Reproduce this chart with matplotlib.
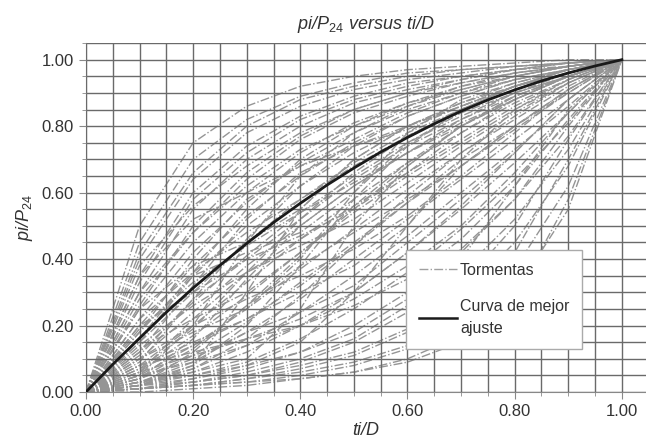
import matplotlib
matplotlib.use("Agg")
import matplotlib.pyplot as plt
from matplotlib.ticker import MultipleLocator, FormatStrFormatter
from matplotlib.lines import Line2D

plt.rcParams['font.family'] = ['Liberation Sans', 'DejaVu Sans']
plt.rcParams['mathtext.fontset'] = 'custom'
plt.rcParams['mathtext.rm'] = 'Liberation Sans'
plt.rcParams['mathtext.it'] = 'Liberation Sans:italic'

# --- Data ---
t_frac = [0.0, 0.1, 0.2, 0.3, 0.4, 0.5, 0.6, 0.7, 0.8, 0.9, 1.0]

# cumulative storm curves, pi/P24 at each t_frac
storms = [
    [0, .50, .75, .86, .92, .95, .97, .98, .99, 1.0, 1.0],
    [0, .45, .70, .82, .89, .93, .96, .97, .98, .99, 1.0],
    [0, .40, .64, .78, .86, .91, .94, .96, .98, .99, 1.0],
    [0, .35, .60, .74, .83, .89, .93, .95, .97, .99, 1.0],
    [0, .30, .55, .70, .80, .87, .91, .94, .97, .98, 1.0],
    [0, .28, .48, .64, .76, .84, .89, .93, .96, .98, 1.0],
    [0, .25, .45, .60, .72, .81, .87, .92, .95, .98, 1.0],
    [0, .22, .42, .57, .69, .78, .85, .90, .94, .97, 1.0],
    [0, .20, .38, .53, .65, .75, .83, .89, .94, .97, 1.0],
    [0, .18, .35, .50, .62, .72, .80, .87, .92, .96, 1.0],
    [0, .15, .30, .45, .58, .69, .78, .85, .91, .96, 1.0],
    [0, .12, .27, .41, .54, .65, .75, .83, .90, .95, 1.0],
    [0, .10, .24, .38, .50, .62, .72, .81, .88, .95, 1.0],
    [0, .08, .20, .33, .46, .58, .69, .78, .87, .94, 1.0],
    [0, .06, .17, .29, .42, .54, .65, .75, .85, .93, 1.0],
    [0, .05, .14, .25, .37, .49, .61, .72, .82, .92, 1.0],
    [0, .04, .11, .21, .33, .45, .57, .68, .79, .90, 1.0],
    [0, .03, .09, .18, .28, .40, .52, .64, .76, .88, 1.0],
    [0, .03, .07, .14, .24, .35, .47, .60, .73, .86, 1.0],
    [0, .02, .06, .12, .20, .30, .42, .55, .69, .84, 1.0],
    [0, .02, .05, .09, .16, .25, .36, .49, .64, .81, 1.0],
    [0, .01, .04, .07, .12, .20, .30, .43, .58, .77, 1.0],
    [0, .01, .03, .05, .09, .15, .24, .36, .52, .73, 1.0],
    [0, .01, .02, .04, .07, .11, .18, .29, .45, .68, 1.0],
    [0, .01, .02, .03, .05, .08, .13, .22, .37, .62, 1.0],
    [0, .00, .01, .02, .04, .06, .10, .17, .30, .55, 1.0],
    [0, .05, .20, .45, .65, .78, .86, .92, .96, .98, 1.0],
    [0, .10, .18, .25, .40, .60, .75, .84, .90, .95, 1.0],
    [0, .02, .08, .30, .55, .70, .80, .87, .93, .97, 1.0],
    [0, .15, .35, .42, .48, .60, .78, .88, .93, .97, 1.0],
    [0, .03, .06, .10, .25, .50, .68, .80, .88, .95, 1.0],
    [0, .25, .38, .45, .55, .70, .80, .86, .92, .97, 1.0],
    [0, .08, .15, .22, .30, .38, .50, .70, .85, .94, 1.0],
    [0, .02, .04, .08, .15, .30, .50, .68, .80, .91, 1.0],
    [0, .35, .52, .60, .68, .76, .84, .90, .95, .98, 1.0],
    [0, .12, .32, .52, .66, .74, .80, .86, .92, .97, 1.0],
    [0, .04, .10, .18, .24, .32, .45, .58, .72, .88, 1.0],
    [0, .06, .22, .36, .44, .52, .63, .74, .84, .93, 1.0],
    [0, .18, .40, .58, .68, .74, .79, .86, .92, .96, 1.0],
    [0, .01, .03, .06, .10, .16, .26, .40, .62, .85, 1.0],
    [0, .20, .30, .40, .52, .64, .74, .82, .89, .95, 1.0],
    [0, .09, .28, .40, .47, .55, .66, .78, .88, .95, 1.0],
    [0, .02, .12, .26, .38, .48, .58, .68, .80, .91, 1.0],
    [0, .05, .09, .14, .20, .28, .38, .50, .66, .84, 1.0],
    [0, .30, .48, .62, .73, .80, .86, .91, .95, .98, 1.0],
    [0, .14, .26, .36, .46, .56, .66, .76, .86, .94, 1.0],
    [0, .01, .02, .04, .06, .09, .14, .24, .42, .70, 1.0],
    [0, .07, .14, .22, .32, .44, .57, .70, .80, .90, 1.0],
    [0, .42, .66, .80, .88, .92, .95, .97, .98, .99, 1.0],
    [0, .33, .58, .72, .82, .88, .92, .95, .97, .99, 1.0],
    [0, .26, .50, .66, .77, .85, .90, .93, .96, .98, 1.0],
    [0, .16, .36, .55, .70, .80, .87, .91, .95, .98, 1.0],
    [0, .11, .28, .46, .62, .74, .83, .89, .94, .97, 1.0],
    [0, .07, .19, .36, .52, .66, .77, .85, .91, .96, 1.0],
    [0, .04, .13, .26, .41, .56, .69, .80, .89, .95, 1.0],
    [0, .02, .07, .16, .29, .44, .59, .72, .83, .93, 1.0],
    [0, .03, .05, .08, .12, .18, .28, .42, .58, .80, 1.0],
    [0, .06, .11, .16, .22, .30, .42, .56, .72, .88, 1.0],
    [0, .10, .20, .28, .35, .43, .53, .65, .78, .91, 1.0],
    [0, .22, .36, .48, .58, .68, .77, .85, .92, .97, 1.0],
    [0, .13, .22, .30, .42, .55, .68, .80, .89, .95, 1.0],
    [0, .04, .16, .34, .50, .62, .72, .82, .90, .96, 1.0],
    [0, .01, .02, .03, .04, .06, .09, .15, .28, .58, 1.0],
    [0, .02, .03, .05, .08, .12, .19, .32, .50, .76, 1.0],
    [0, .08, .12, .16, .20, .26, .34, .46, .62, .82, 1.0],
    [0, .38, .56, .68, .78, .85, .90, .94, .97, .99, 1.0],
    [0, .19, .33, .44, .54, .63, .72, .80, .88, .95, 1.0],
    [0, .03, .08, .20, .38, .58, .74, .85, .92, .97, 1.0],
]

# best fit curve
fit_x = [0.0, 0.05, 0.1, 0.15, 0.2, 0.25, 0.3, 0.35, 0.4, 0.45, 0.5,
         0.55, 0.6, 0.65, 0.7, 0.75, 0.8, 0.85, 0.9, 0.95, 1.0]
fit_y = [0.0, 0.083, 0.162, 0.24, 0.313, 0.381, 0.447, 0.51, 0.568, 0.623, 0.674,
         0.722, 0.766, 0.807, 0.845, 0.879, 0.909, 0.936, 0.96, 0.981, 1.0]

# --- Plot ---
fig = plt.figure(figsize=(6.46, 4.44), dpi=100)
ax = fig.add_axes([0.133, 0.117, 0.867, 0.786])

storm_gray = '#959595'
for s in storms:
    ax.plot(t_frac, s, color=storm_gray, lw=1.0, ls='-.', zorder=2)
ax.plot(fit_x, fit_y, color='#1a1a1a', lw=2.0, zorder=4)

ax.set_xlim(0, 1.045)
ax.set_ylim(0, 1.05)
ax.xaxis.set_major_locator(MultipleLocator(0.2))
ax.yaxis.set_major_locator(MultipleLocator(0.2))
ax.xaxis.set_minor_locator(MultipleLocator(0.05))
ax.yaxis.set_minor_locator(MultipleLocator(0.05))
ax.xaxis.set_major_formatter(FormatStrFormatter('%.2f'))
ax.yaxis.set_major_formatter(FormatStrFormatter('%.2f'))
ax.grid(True, which='both', color='#6a6a6a', lw=1.0, zorder=3)
ax.set_axisbelow(False)

ax.tick_params(which='major', length=5, color='#888888', labelsize=12, labelcolor='#333333')
ax.tick_params(which='minor', length=3, color='#888888')
for side in ['top', 'right']:
    ax.spines[side].set_visible(False)
for side in ['left', 'bottom']:
    ax.spines[side].set_color('#888888')

ax.set_title(r'pi/P$_{24}$ versus ti/D', fontstyle='italic', fontsize=13,
             color='#333333', pad=10)
ax.set_xlabel('ti/D', fontstyle='italic', fontsize=13, color='#333333', labelpad=2)
ax.set_ylabel(r'pi/P$_{24}$', fontstyle='italic', fontsize=13, color='#333333', labelpad=5)

handles = [Line2D([], [], color='#a0a0a0', lw=1.0, ls='-.'),
           Line2D([], [], color='#1a1a1a', lw=1.8)]
leg = ax.legend(handles, ['Tormentas', 'Curva de mejor\najuste'],
                loc='upper left', bbox_to_anchor=(0.571, 0.407),
                fontsize=11.5, frameon=True, fancybox=False, framealpha=1,
                edgecolor='#aaaaaa', labelspacing=1.3, handlelength=2.4,
                handletextpad=0.2, borderpad=0.8, borderaxespad=0)
leg.set_zorder(5)
for t in leg.get_texts():
    t.set_color('#333333')
    t.set_linespacing(1.6)

fig.savefig('out.png', dpi=100)
